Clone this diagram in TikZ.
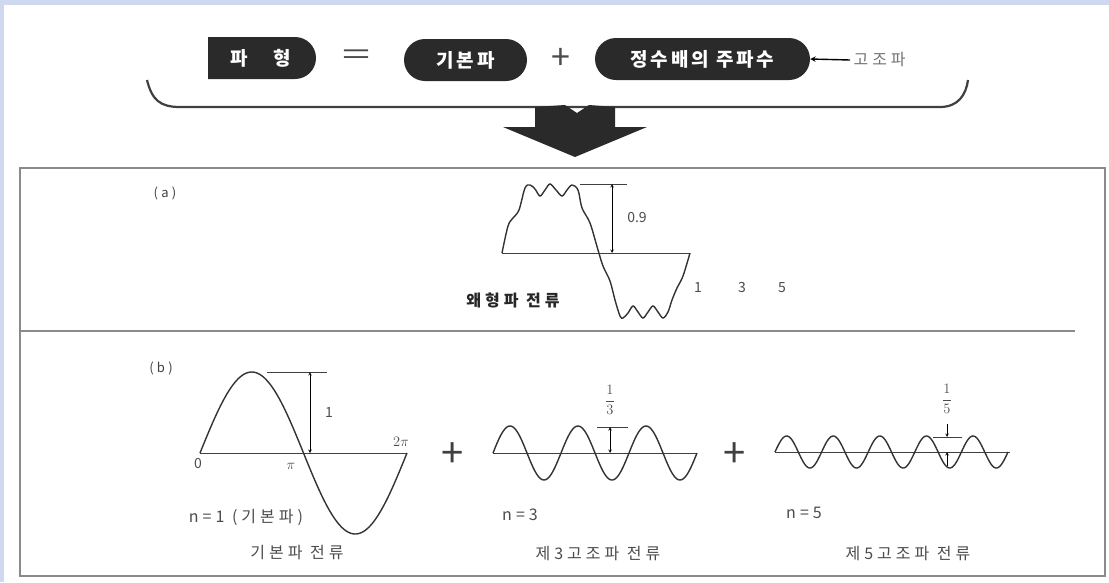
\documentclass[tikz,border=0pt]{standalone}
\usepackage{amsmath}
\usepackage{fontspec}
\setmainfont{Noto Sans CJK KR}
\newfontfamily\krwide[LetterSpace=25]{Noto Sans CJK KR}
\newfontfamily\krbold[LetterSpace=15]{Noto Sans CJK KR}
\usepackage{xcolor}
\usetikzlibrary{shapes.misc}
\usetikzlibrary{arrows}
\tikzset{>=latex}
\definecolor{bgblue}{HTML}{CFD8EF}
\definecolor{inkgray}{HTML}{2A2A2A}
\definecolor{framegray}{HTML}{8A8A8A}
\tikzstyle{pill} = [rounded rectangle, fill=inkgray, text=white, font=\krbold\bfseries\fontsize{19}{19}\selectfont, inner sep=0pt, minimum height=42pt]
\tikzstyle{tabbox} = [pill, rounded rectangle left arc=none]
\tikzstyle{wave} = [line width=1.4pt, color=black!80]
\tikzstyle{axisline} = [line width=0.8pt, color=black!75]
\tikzstyle{dim} = [line width=0.6pt, <->, >=stealth]
\tikzstyle{lbl} = [font=\krwide\fontsize{16}{16}\selectfont, text=black!70]
\tikzstyle{num} = [font=\fontsize{14}{14}\selectfont, text=black!70]
\tikzstyle{tag} = [font=\krwide\fontsize{13}{13}\selectfont, text=black!75]
\tikzstyle{arrow} = [thick,->,>=stealth]

\begin{document}
\begin{tikzpicture}[x=1pt,y=-1pt]
    % page and background
    \useasboundingbox (0,0) rectangle (1109,582);
    \fill[bgblue] (0,0) rectangle (1109,582);
    \fill[white] (4,5) rectangle (1109,582);

    % top line: waveform = fundamental + multiples
    \node[tabbox, minimum width=108pt] (wave) at (261,58) {파\hspace{26pt}형};
    \node[font=\fontsize{28}{28}\selectfont, text=black!70] (eq) at (356,57) {\scalebox{1.8}[1]{=}};
    \node[pill, minimum width=123pt] (fund) at (465.5,60) {기본파};
    \node[font=\fontsize{34}{34}\selectfont, text=black!70] (plus0) at (561,59) {+};
    \node[pill, minimum width=215pt] (multi) at (702.5,59) {정수배의 주파수};
    \node[font=\krwide\fontsize{16}{16}\selectfont, text=black!55, anchor=west] (harm) at (850,60) {고조파};
    \draw[arrow, line width=1.4pt] (harm.west) -- (multi.east);

    % bracket and big arrow
    \draw[line width=2.2pt, color=black!75] (147,80) .. controls (152,100) and (160,107) .. (180,107) -- (940,107) .. controls (958,107) and (966,95) .. (968,80);
    \fill[inkgray] (535,107) -- (565,105) -- (577,113) -- (589,105) -- (615,107) -- (615,127) -- (647,127) -- (575,157) -- (503,127) -- (535,127) -- cycle;

    % frame
    \draw[line width=1.4pt, color=framegray] (20,168) rectangle (1105,576);
    \draw[line width=1.2pt, color=framegray] (20,331) -- (1075,331);

    % (a) distorted wave
    \node[tag] (tagA) at (165,193) {(a)};
    \draw[axisline] (502,253) -- (690,253);
    \draw[wave] plot[smooth, tension=0.55] coordinates {(502,253) (508,226) (513,218) (519,210) (525,188) (530,185) (535,189) (540,196) (545,190) (550,184) (556,190) (562,196) (567,190) (572,185) (578,190) (582,208) (590,223) (598,250) (603,266) (610,281) (615,300) (620,316) (623,318) (628,313) (633,306) (638,312) (643,318) (648,312) (653,306) (658,312) (663,318) (668,312) (672,300) (677,288) (683,276) (690,253)};
    \draw[axisline] (580,184) -- (627,184);
    \draw[dim] (612,184) -- (612,253);
    \node[num] (ampA) at (637,218) {0.9};
    \node[font=\krwide\bfseries\fontsize{16}{16}\selectfont, text=black!85] (capA) at (513,300) {왜형파 전류};
    \node[num] (oneA) at (698,288) {1};
    \node[num] (threeA) at (742,288) {3};
    \node[num] (fiveA) at (782,288) {5};

    % (b) fundamental
    \node[tag] (tagB) at (161,368) {(b)};
    \draw[axisline] (200,453) -- (407,453);
    \draw[wave] plot[domain=0:360, samples=120] ({200+\x/360*207}, {453-81*sin(\x)});
    \draw[axisline] (267,372) -- (327,372);
    \draw[dim] (310,372) -- (310,453);
    \node[num] (ampB) at (329,413) {1};
    \node[num] (zero) at (198,463) {0};
    \node[num] (pi) at (291,466) {$\pi$};
    \node[num] (twopi) at (401,442) {$2\pi$};
    \node[lbl] (nB1) at (246,517) {n=1 (기본파)};
    \node[lbl] (capB1) at (297,552) {기본파 전류};
    \node[font=\fontsize{40}{40}\selectfont, text=black!75] (plus1) at (453,455) {+};

    % 3rd harmonic
    \draw[axisline] (493,453) -- (697,453);
    \draw[wave] plot[domain=0:1080, samples=180] ({493+\x/1080*204}, {453-27*sin(\x)});
    \draw[axisline] (597,427) -- (628,427);
    \draw[dim] (610,427) -- (610,453);
    \node[num] (ampB3) at (610,400) {$\dfrac{1}{3}$};
    \node[lbl] (nB3) at (520,515) {n=3};
    \node[lbl] (capB3) at (598,553) {제3고조파 전류};
    \node[font=\fontsize{40}{40}\selectfont, text=black!75] (plus2) at (735,455) {+};

    % 5th harmonic
    \draw[axisline] (775,452) -- (1010,452);
    \draw[wave] plot[domain=0:1800, samples=260] ({775+\x/1800*233}, {452-16*sin(\x)});
    \draw[axisline] (933,437) -- (962,437);
    \draw[line width=0.6pt, ->, >=stealth] (947,424) -- (947,437);
    \draw[line width=0.6pt, ->, >=stealth] (947,466) -- (947,452);
    \node[num] (ampB5) at (947,399) {$\dfrac{1}{5}$};
    \node[lbl] (nB5) at (804,513) {n=5};
    \node[lbl] (capB5) at (908,553) {제5고조파 전류};
\end{tikzpicture}
\end{document}
